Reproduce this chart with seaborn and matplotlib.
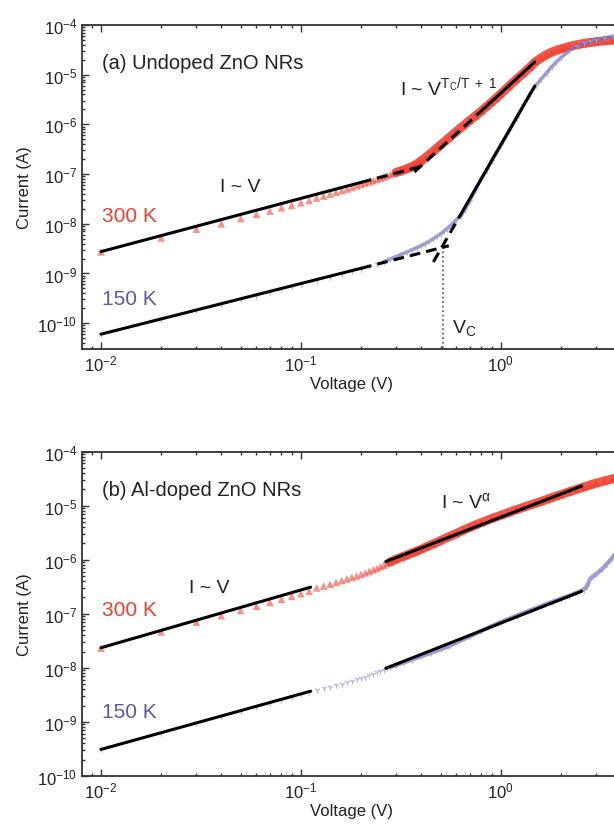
import numpy as np
import matplotlib
matplotlib.use("Agg")
import matplotlib.pyplot as plt
from matplotlib.ticker import LogLocator, NullFormatter
import seaborn as sns

# ---------------- data ----------------
# Panel (a) undoped ZnO NRs, 300 K
V_a300 = [0.01, 0.02, 0.03, 0.04, 0.05, 0.06, 0.07, 0.08, 0.09, 0.10,
          0.11, 0.12, 0.13, 0.14, 0.15, 0.16, 0.17, 0.18, 0.19, 0.20,
          0.21, 0.22, 0.23, 0.24, 0.25, 0.26, 0.27, 0.28, 0.29, 0.30,
          0.31, 0.32, 0.33, 0.34, 0.35, 0.36, 0.37, 0.38, 0.39, 0.40,
          0.42, 0.44, 0.46, 0.48, 0.50, 0.53, 0.56, 0.60, 0.65, 0.70,
          0.75, 0.80, 0.85, 0.90, 0.95, 1.00, 1.10, 1.20, 1.30, 1.40,
          1.50, 1.60, 1.70, 1.80, 1.90, 2.00, 2.10, 2.20, 2.40, 2.60,
          2.80, 3.00, 3.30, 3.60, 4.00]
I_a300 = [2.7e-9, 5.2e-9, 7.8e-9, 1.0e-8, 1.27e-8, 1.55e-8, 1.8e-8, 2.1e-8, 2.35e-8, 2.65e-8,
          2.95e-8, 3.3e-8, 3.6e-8, 3.95e-8, 4.3e-8, 4.65e-8, 5.0e-8, 5.4e-8, 5.8e-8, 6.2e-8,
          6.6e-8, 7.0e-8, 7.4e-8, 7.8e-8, 8.3e-8, 8.8e-8, 9.3e-8, 9.8e-8, 1.03e-7, 1.08e-7,
          1.13e-7, 1.18e-7, 1.23e-7, 1.29e-7, 1.35e-7, 1.42e-7, 1.5e-7, 1.6e-7, 1.72e-7, 1.85e-7,
          2.15e-7, 2.5e-7, 2.9e-7, 3.35e-7, 3.85e-7, 4.7e-7, 5.7e-7, 7.2e-7, 9.4e-7, 1.2e-6,
          1.5e-6, 1.85e-6, 2.3e-6, 2.8e-6, 3.4e-6, 4.1e-6, 5.9e-6, 8.1e-6, 1.08e-5, 1.42e-5,
          1.85e-5, 2.2e-5, 2.55e-5, 2.85e-5, 3.1e-5, 3.3e-5, 3.5e-5, 3.7e-5, 4.0e-5, 4.25e-5,
          4.45e-5, 4.6e-5, 4.8e-5, 4.95e-5, 5.1e-5]

# Panel (a), 150 K
V_a150 = [0.01, 0.02, 0.03, 0.04, 0.05, 0.06, 0.07, 0.08, 0.09, 0.10,
          0.12, 0.14, 0.16, 0.18, 0.20, 0.22, 0.24, 0.26, 0.28, 0.30,
          0.32, 0.34, 0.36, 0.38, 0.40, 0.42, 0.44, 0.46, 0.48, 0.50,
          0.52, 0.54, 0.56, 0.58, 0.60, 0.63, 0.66, 0.70, 0.75, 0.80,
          0.85, 0.90, 0.95, 1.00, 1.10, 1.20, 1.30, 1.40, 1.50, 1.60,
          1.70, 1.80, 1.90, 2.00, 2.20, 2.40, 2.60, 2.80, 3.00, 3.30,
          3.60, 4.00]
I_a150 = [6.0e-11, 1.2e-10, 1.8e-10, 2.4e-10, 3.0e-10, 3.6e-10, 4.2e-10, 4.8e-10, 5.5e-10, 6.1e-10,
          7.4e-10, 8.6e-10, 9.9e-10, 1.12e-9, 1.25e-9, 1.4e-9, 1.55e-9, 1.72e-9, 1.95e-9, 2.2e-9,
          2.45e-9, 2.7e-9, 3.0e-9, 3.3e-9, 3.65e-9, 4.0e-9, 4.45e-9, 5.0e-9, 5.6e-9, 6.3e-9,
          7.1e-9, 8.0e-9, 9.1e-9, 1.04e-8, 1.2e-8, 1.45e-8, 1.9e-8, 2.9e-8, 4.9e-8, 8.0e-8,
          1.2e-7, 1.85e-7, 2.7e-7, 3.8e-7, 7.3e-7, 1.35e-6, 2.4e-6, 4.0e-6, 6.1e-6, 8.3e-6,
          1.1e-5, 1.45e-5, 1.8e-5, 2.2e-5, 3.0e-5, 3.8e-5, 4.3e-5, 4.7e-5, 5.0e-5, 5.5e-5,
          5.9e-5, 6.3e-5]

# Panel (b) Al-doped ZnO NRs, 300 K
V_b300 = [0.01, 0.02, 0.03, 0.04, 0.05, 0.06, 0.07, 0.08, 0.09, 0.10,
          0.11, 0.12, 0.13, 0.14, 0.15, 0.16, 0.17, 0.18, 0.19, 0.20,
          0.21, 0.22, 0.23, 0.24, 0.25, 0.26, 0.27, 0.28, 0.30, 0.32,
          0.34, 0.36, 0.38, 0.40, 0.43, 0.46, 0.50, 0.55, 0.60, 0.65,
          0.70, 0.75, 0.80, 0.90, 1.00, 1.10, 1.20, 1.30, 1.40, 1.50,
          1.60, 1.70, 1.80, 1.90, 2.00, 2.20, 2.40, 2.60, 2.80, 3.00,
          3.30, 3.60, 4.00]
I_b300 = [2.3e-8, 4.6e-8, 7.0e-8, 9.2e-8, 1.15e-7, 1.38e-7, 1.62e-7, 1.85e-7, 2.1e-7, 2.35e-7,
          2.6e-7, 3.0e-7, 3.25e-7, 3.5e-7, 3.8e-7, 4.1e-7, 4.4e-7, 4.7e-7, 5.0e-7, 5.35e-7,
          5.7e-7, 6.1e-7, 6.5e-7, 6.9e-7, 7.4e-7, 7.9e-7, 8.5e-7, 9.1e-7, 1.02e-6, 1.12e-6,
          1.22e-6, 1.33e-6, 1.44e-6, 1.56e-6, 1.76e-6, 1.96e-6, 2.25e-6, 2.65e-6, 3.05e-6, 3.5e-6,
          3.95e-6, 4.4e-6, 4.85e-6, 5.75e-6, 6.6e-6, 7.5e-6, 8.4e-6, 9.3e-6, 1.02e-5, 1.11e-5,
          1.2e-5, 1.3e-5, 1.4e-5, 1.5e-5, 1.6e-5, 1.8e-5, 2.0e-5, 2.2e-5, 2.4e-5, 2.6e-5,
          2.85e-5, 3.1e-5, 3.4e-5]

# Panel (b), 150 K
V_b150 = [0.01, 0.02, 0.03, 0.04, 0.05, 0.06, 0.07, 0.08, 0.09, 0.10,
          0.11, 0.12, 0.13, 0.14, 0.15, 0.16, 0.17, 0.18, 0.19, 0.20,
          0.21, 0.22, 0.23, 0.24, 0.25, 0.26, 0.27, 0.28, 0.30, 0.33,
          0.36, 0.40, 0.45, 0.50, 0.55, 0.60, 0.70, 0.80, 0.90, 1.00,
          1.20, 1.40, 1.60, 1.80, 2.00, 2.20, 2.40, 2.60, 2.70, 2.80,
          2.90, 3.00, 3.20, 3.40, 3.60, 3.80, 4.00]
I_b150 = [3.1e-10, 6.2e-10, 9.4e-10, 1.26e-9, 1.58e-9, 1.9e-9, 2.23e-9, 2.56e-9, 2.9e-9, 3.25e-9,
          3.6e-9, 3.85e-9, 4.15e-9, 4.45e-9, 4.8e-9, 5.1e-9, 5.45e-9, 5.8e-9, 6.15e-9, 6.5e-9,
          6.9e-9, 7.3e-9, 7.7e-9, 8.2e-9, 8.7e-9, 9.2e-9, 9.8e-9, 1.03e-8, 1.12e-8, 1.27e-8,
          1.42e-8, 1.63e-8, 1.9e-8, 2.2e-8, 2.5e-8, 2.95e-8, 3.8e-8, 4.8e-8, 5.9e-8, 7.0e-8,
          9.2e-8, 1.15e-7, 1.4e-7, 1.65e-7, 1.9e-7, 2.15e-7, 2.45e-7, 2.8e-7, 3.2e-7, 4.4e-7,
          4.9e-7, 5.4e-7, 6.6e-7, 8.3e-7, 1.06e-6, 1.38e-6, 1.8e-6]

# Fit lines (end points)
fit_a300_lin_V, fit_a300_lin_I = [0.01, 0.2], [2.75e-9, 6.8e-8]
fit_a300_lind_V, fit_a300_lind_I = [0.2, 0.42], [6.8e-8, 1.5e-7]
fit_a300_powd_V, fit_a300_powd_I = [0.37, 0.78], [1.1e-7, 1.7e-6]
fit_a300_pow_V, fit_a300_pow_I = [0.78, 1.48], [1.7e-6, 1.8e-5]
fit_a150_lin_V, fit_a150_lin_I = [0.01, 0.2], [6.0e-11, 1.27e-9]
fit_a150_lind_V, fit_a150_lind_I = [0.2, 0.55], [1.27e-9, 3.6e-9]
fit_a150_powd_V, fit_a150_powd_I = [0.46, 0.64], [1.7e-9, 1.7e-8]
fit_a150_pow_V, fit_a150_pow_I = [0.64, 1.48], [1.7e-8, 5.9e-6]
Vc_V, Vc_I = [0.513, 0.513], [3.4e-9, 10 ** -10.52]

fit_b300_lin_V, fit_b300_lin_I = [0.01, 0.112], [2.35e-8, 3.1e-7]
fit_b300_pow_V, fit_b300_pow_I = [0.266, 2.54], [9.2e-7, 2.3e-5]
fit_b150_lin_V, fit_b150_lin_I = [0.01, 0.112], [3.1e-10, 3.7e-9]
fit_b150_pow_V, fit_b150_pow_I = [0.266, 2.54], [9.8e-9, 2.6e-7]

# ---------------- style ----------------
sns.set_style("ticks")
plt.rcParams["font.family"] = ["Liberation Sans", "DejaVu Sans"]
plt.rcParams["mathtext.fontset"] = "custom"
plt.rcParams["mathtext.rm"] = "Liberation Sans"
plt.rcParams["mathtext.it"] = "Liberation Sans:italic"
plt.rcParams["mathtext.bf"] = "Liberation Sans:bold"
plt.rcParams["mathtext.default"] = "regular"

RED = "#ee3b2b"
RED_TXT = "#ef4030"
BLUE = "#6f6fbd"
BLUE_LIGHT = "#a4a4da"
BLUE_TXT = "#5a5aa6"

fig = plt.figure(figsize=(6.14, 8.29), dpi=100)
ax_a = fig.add_axes([82 / 614, 1 - 350 / 829, 539 / 614, 324 / 829])
ax_b = fig.add_axes([82 / 614, 1 - 777 / 829, 539 / 614, 324.5 / 829])


def line(ax, x, y, **kw):
    sns.lineplot(x=x, y=y, ax=ax, estimator=None, sort=False, legend=False, **kw)


def data(ax, Vr, Ir, Vb, Ib, r0, b0, bband_lw):
    # red band + markers
    line(ax, Vr[r0:], Ir[r0:], color=RED, lw=6.5, alpha=0.85, zorder=1.5)
    sns.scatterplot(x=Vr, y=Ir, ax=ax, marker="^", s=30, color=RED, alpha=0.55,
                    edgecolor="none", zorder=2, legend=False)
    # blue band + markers
    line(ax, Vb[b0:], Ib[b0:], color=BLUE, lw=bband_lw, alpha=0.7, zorder=2.2)
    sns.scatterplot(x=Vb, y=Ib, ax=ax, marker="1", s=20, color=BLUE_LIGHT,
                    linewidth=0.9, alpha=0.8, zorder=2.3, legend=False)


def style(ax, ymin):
    ax.set_xscale("log")
    ax.set_yscale("log")
    ax.set_xlim(10 ** -2.095, 4.0)
    ax.set_ylim(ymin, 1e-4)
    ax.xaxis.set_major_locator(LogLocator(base=10, numticks=20))
    ax.yaxis.set_major_locator(LogLocator(base=10, numticks=20))
    ax.xaxis.set_minor_locator(LogLocator(base=10, subs=np.arange(2, 10), numticks=100))
    ax.yaxis.set_minor_locator(LogLocator(base=10, subs=np.arange(2, 10), numticks=100))
    ax.xaxis.set_minor_formatter(NullFormatter())
    ax.yaxis.set_minor_formatter(NullFormatter())
    ax.tick_params(which="both", direction="in", top=True, right=True,
                   labelsize=12, color="#333333", width=1.0, labelcolor="#222222")
    ax.tick_params(which="major", length=5)
    ax.tick_params(which="minor", length=2.5)
    for s in ax.spines.values():
        s.set_linewidth(1.3)
        s.set_color("#333333")
    ax.set_xlabel("Voltage (V)", fontsize=12, color="#222222", labelpad=1.5)
    ax.set_ylabel("Current (A)", fontsize=12, color="#222222", labelpad=4)


for ax in (ax_a, ax_b):
    ax.set_xscale("log")
    ax.set_yscale("log")

# ---------- panel (a) ----------
ax = ax_a
data(ax, V_a300, I_a300, V_a150, I_a150, 29, 17, 2.5)
line(ax, fit_a300_lin_V, fit_a300_lin_I, color="k", lw=2.2, zorder=4)
line(ax, fit_a300_lind_V, fit_a300_lind_I, color="k", lw=2.2, ls=(0, (3.5, 2)), zorder=4)
line(ax, fit_a300_powd_V, fit_a300_powd_I, color="k", lw=2.2, ls=(0, (3.5, 2)), zorder=4)
line(ax, fit_a300_pow_V, fit_a300_pow_I, color="k", lw=2.2, zorder=4)
line(ax, fit_a150_lin_V, fit_a150_lin_I, color="k", lw=2.2, zorder=4)
line(ax, fit_a150_lind_V, fit_a150_lind_I, color="k", lw=2.2, ls=(0, (3.5, 2)), zorder=4)
line(ax, fit_a150_powd_V, fit_a150_powd_I, color="k", lw=2.2, ls=(0, (3.5, 2)), zorder=4)
line(ax, fit_a150_pow_V, fit_a150_pow_I, color="k", lw=2.2, zorder=4)
line(ax, Vc_V, Vc_I, color="#666666", lw=1.3, ls=(0, (1, 1.5)), zorder=3)
style(ax, 10 ** -10.52)

ax.text(0.0101, 1.8e-5, "(a) Undoped ZnO NRs", fontsize=14.5, ha="left", va="center", color="#222222")
ax.text(0.0495, 5.5e-8, "I ~ V", fontsize=14, ha="center", va="center", color="#222222")
ax.text(0.313, 5.9e-6, r"I ~ V$^{T_C/T\ +\ 1}$", fontsize=14, ha="left", va="center", color="#222222")
ax.text(0.0101, 1.45e-8, "300 K", fontsize=15, ha="left", va="center", color=RED_TXT)
ax.text(0.0101, 3.1e-10, "150 K", fontsize=15, ha="left", va="center", color=BLUE_TXT)
ax.text(0.57, 8.3e-11, r"V$_C$", fontsize=14, ha="left", va="center", color="#222222")

# ---------- panel (b) ----------
ax = ax_b
data(ax, V_b300, I_b300, V_b150, I_b150, 27, 27, 3.0)
line(ax, fit_b300_lin_V, fit_b300_lin_I, color="k", lw=2.2, zorder=4)
line(ax, fit_b300_pow_V, fit_b300_pow_I, color="k", lw=2.2, zorder=4)
line(ax, fit_b150_lin_V, fit_b150_lin_I, color="k", lw=2.2, zorder=4)
line(ax, fit_b150_pow_V, fit_b150_pow_I, color="k", lw=2.2, zorder=4)
style(ax, 1e-10)

ax.text(0.0101, 2.0e-5, "(b) Al-doped ZnO NRs", fontsize=14.5, ha="left", va="center", color="#222222")
ax.text(0.035, 3.1e-7, "I ~ V", fontsize=14, ha="center", va="center", color="#222222")
ax.text(0.50, 1.23e-5, r"I ~ V$^{\alpha}$", fontsize=14, ha="left", va="center", color="#222222")
ax.text(0.0101, 1.2e-7, "300 K", fontsize=15, ha="left", va="center", color=RED_TXT)
ax.text(0.0101, 1.55e-9, "150 K", fontsize=15, ha="left", va="center", color=BLUE_TXT)

fig.savefig("out.png", dpi=100, facecolor="white")
